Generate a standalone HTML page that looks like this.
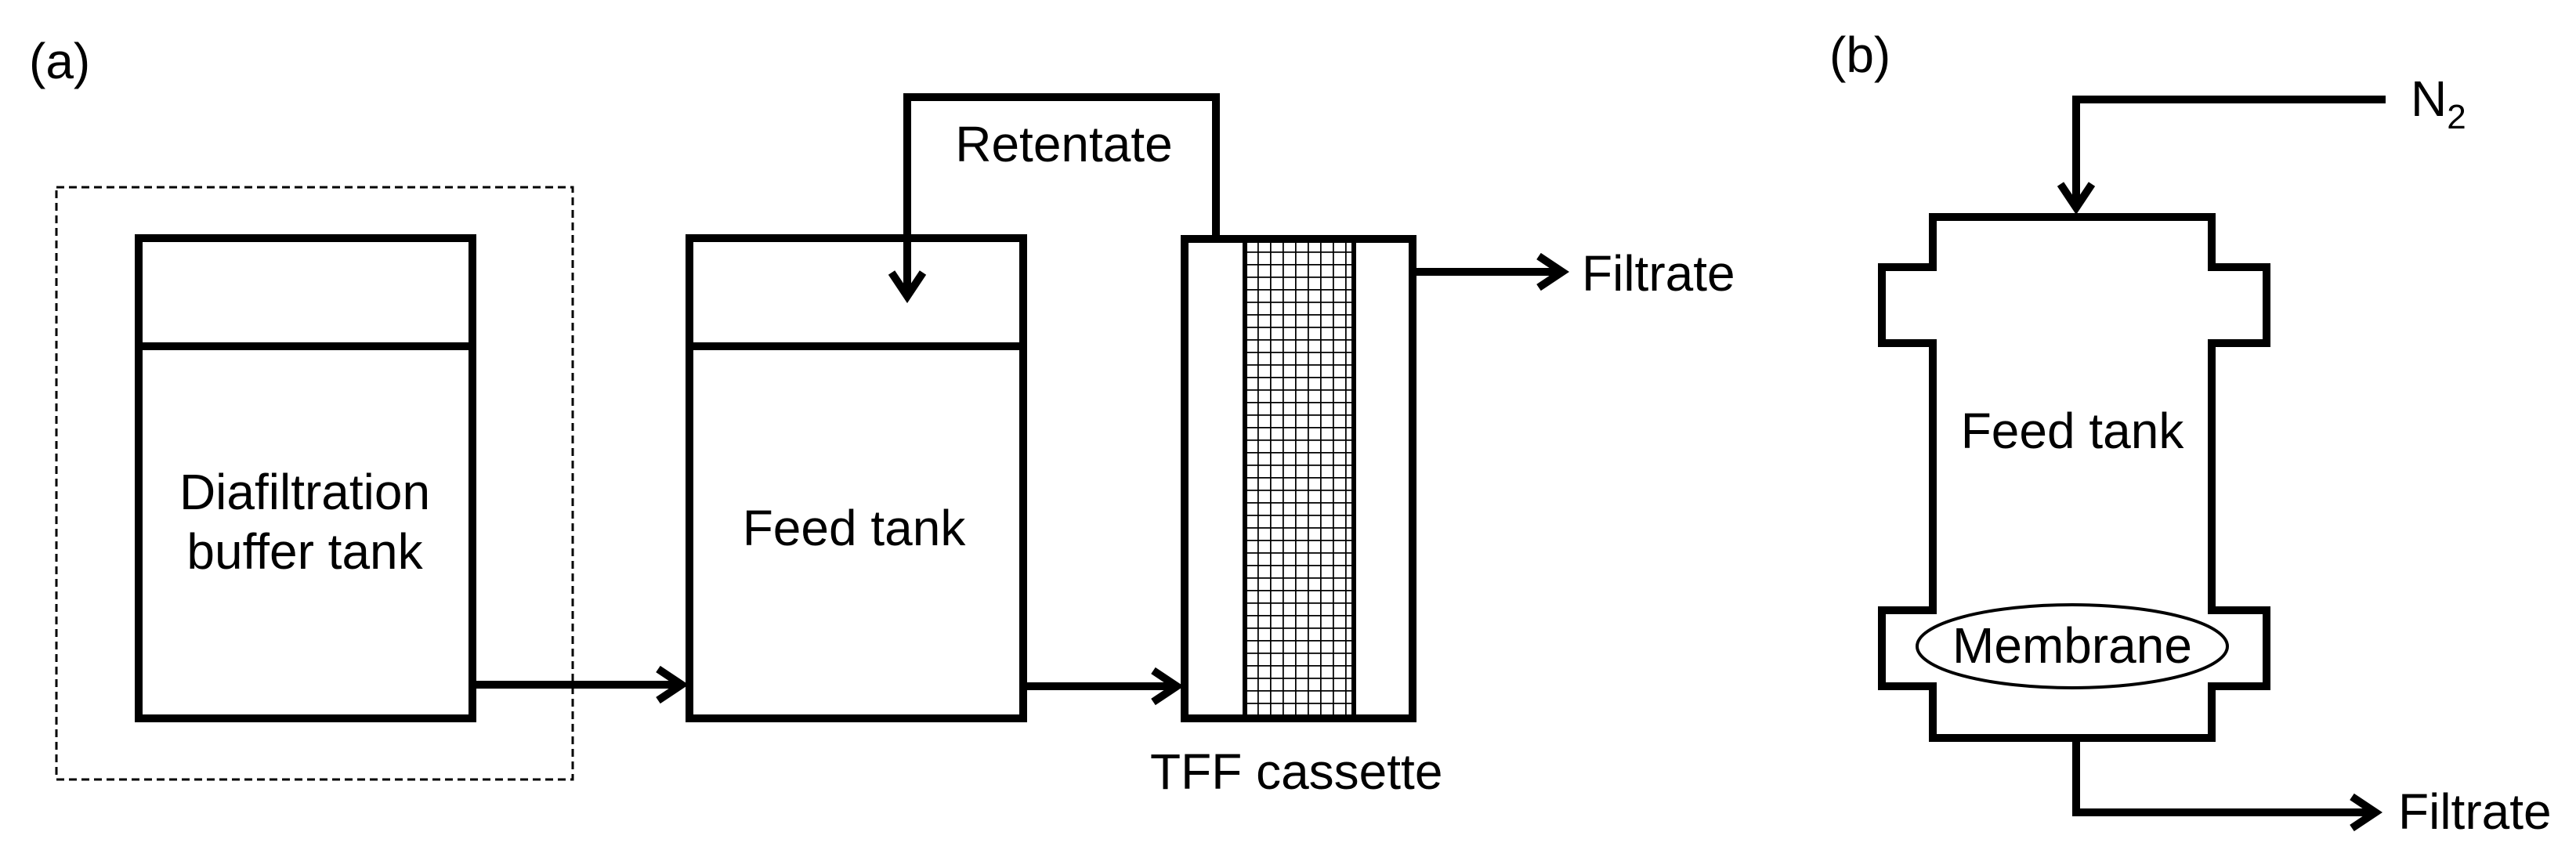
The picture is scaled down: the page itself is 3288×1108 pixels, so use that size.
<!DOCTYPE html>
<html><head><meta charset="utf-8"><style>
html,body{margin:0;padding:0;background:#fff;}
svg{display:block;}
text{font-family:"Liberation Sans",Arial,sans-serif;font-size:64px;fill:#000;}
</style></head><body>
<svg width="3288" height="1108" viewBox="0 0 3288 1108" xmlns="http://www.w3.org/2000/svg">
<defs>
<pattern id="mesh" x="1589" y="305" width="16" height="16" patternUnits="userSpaceOnUse">
<path d="M0 0 V16 M0 0 H16" stroke="#000" stroke-width="3.5" fill="none"/>
</pattern>
</defs>
<g fill="none" stroke="#000" stroke-width="10" stroke-linecap="butt">
<text x="37" y="100" stroke="none">(a)</text>
<rect x="72" y="239" width="659" height="756" stroke-width="3" stroke-dasharray="10,6"/>
<rect x="177" y="304" width="426" height="613"/>
<line x1="177" y1="442" x2="603" y2="442"/>
<text x="389" y="650" text-anchor="middle" stroke="none">Diafiltration</text>
<text x="389" y="726" text-anchor="middle" stroke="none">buffer tank</text>
<line x1="603" y1="874" x2="868" y2="874"/>
<polyline points="840,854 870,874 840,894" stroke-linejoin="miter"/>
<rect x="880" y="304" width="426" height="613"/>
<line x1="880" y1="442" x2="1306" y2="442"/>
<text x="1090" y="696" text-anchor="middle" stroke="none">Feed tank</text>
<line x1="1306" y1="876" x2="1500" y2="876"/>
<polyline points="1472,856 1502,876 1472,896"/>
<rect x="1589" y="305" width="139" height="612" fill="url(#mesh)" stroke="none"/>
<line x1="1589" y1="305" x2="1589" y2="917" stroke-width="6"/>
<line x1="1728" y1="305" x2="1728" y2="917" stroke-width="6"/>
<rect x="1512" y="305" width="291" height="612"/>
<text x="1468" y="1007" stroke="none">TFF cassette</text>
<polyline points="1552,305 1552,124 1158,124 1158,376"/>
<polyline points="1138,348 1158,378 1178,348"/>
<text x="1358" y="206" text-anchor="middle" stroke="none">Retentate</text>
<line x1="1803" y1="347" x2="1992" y2="347"/>
<polyline points="1964,327 1994,347 1964,367"/>
<text x="2019" y="371" stroke="none">Filtrate</text>
<text x="2335" y="92" stroke="none">(b)</text>
<polyline points="3045,127 2650,127 2650,262"/>
<polyline points="2630,235 2650,265 2670,235"/>
<text x="3077" y="148" stroke="none">N<tspan font-size="44" dy="16">2</tspan></text>
<polygon points="2467,277 2823,277 2823,341 2893,341 2893,438 2823,438 2823,779 2893,779 2893,876 2823,876 2823,942 2467,942 2467,876 2402,876 2402,779 2467,779 2467,438 2402,438 2402,341 2467,341"/>
<text x="2645" y="572" text-anchor="middle" stroke="none">Feed tank</text>
<ellipse cx="2645" cy="825" rx="198" ry="53" stroke-width="4"/>
<text x="2645" y="846" text-anchor="middle" stroke="none">Membrane</text>
<polyline points="2650,942 2650,1037 3030,1037"/>
<polyline points="3002,1017 3032,1037 3002,1057"/>
<text x="3061" y="1058" stroke="none">Filtrate</text>
</g>
</svg>
</body></html>
